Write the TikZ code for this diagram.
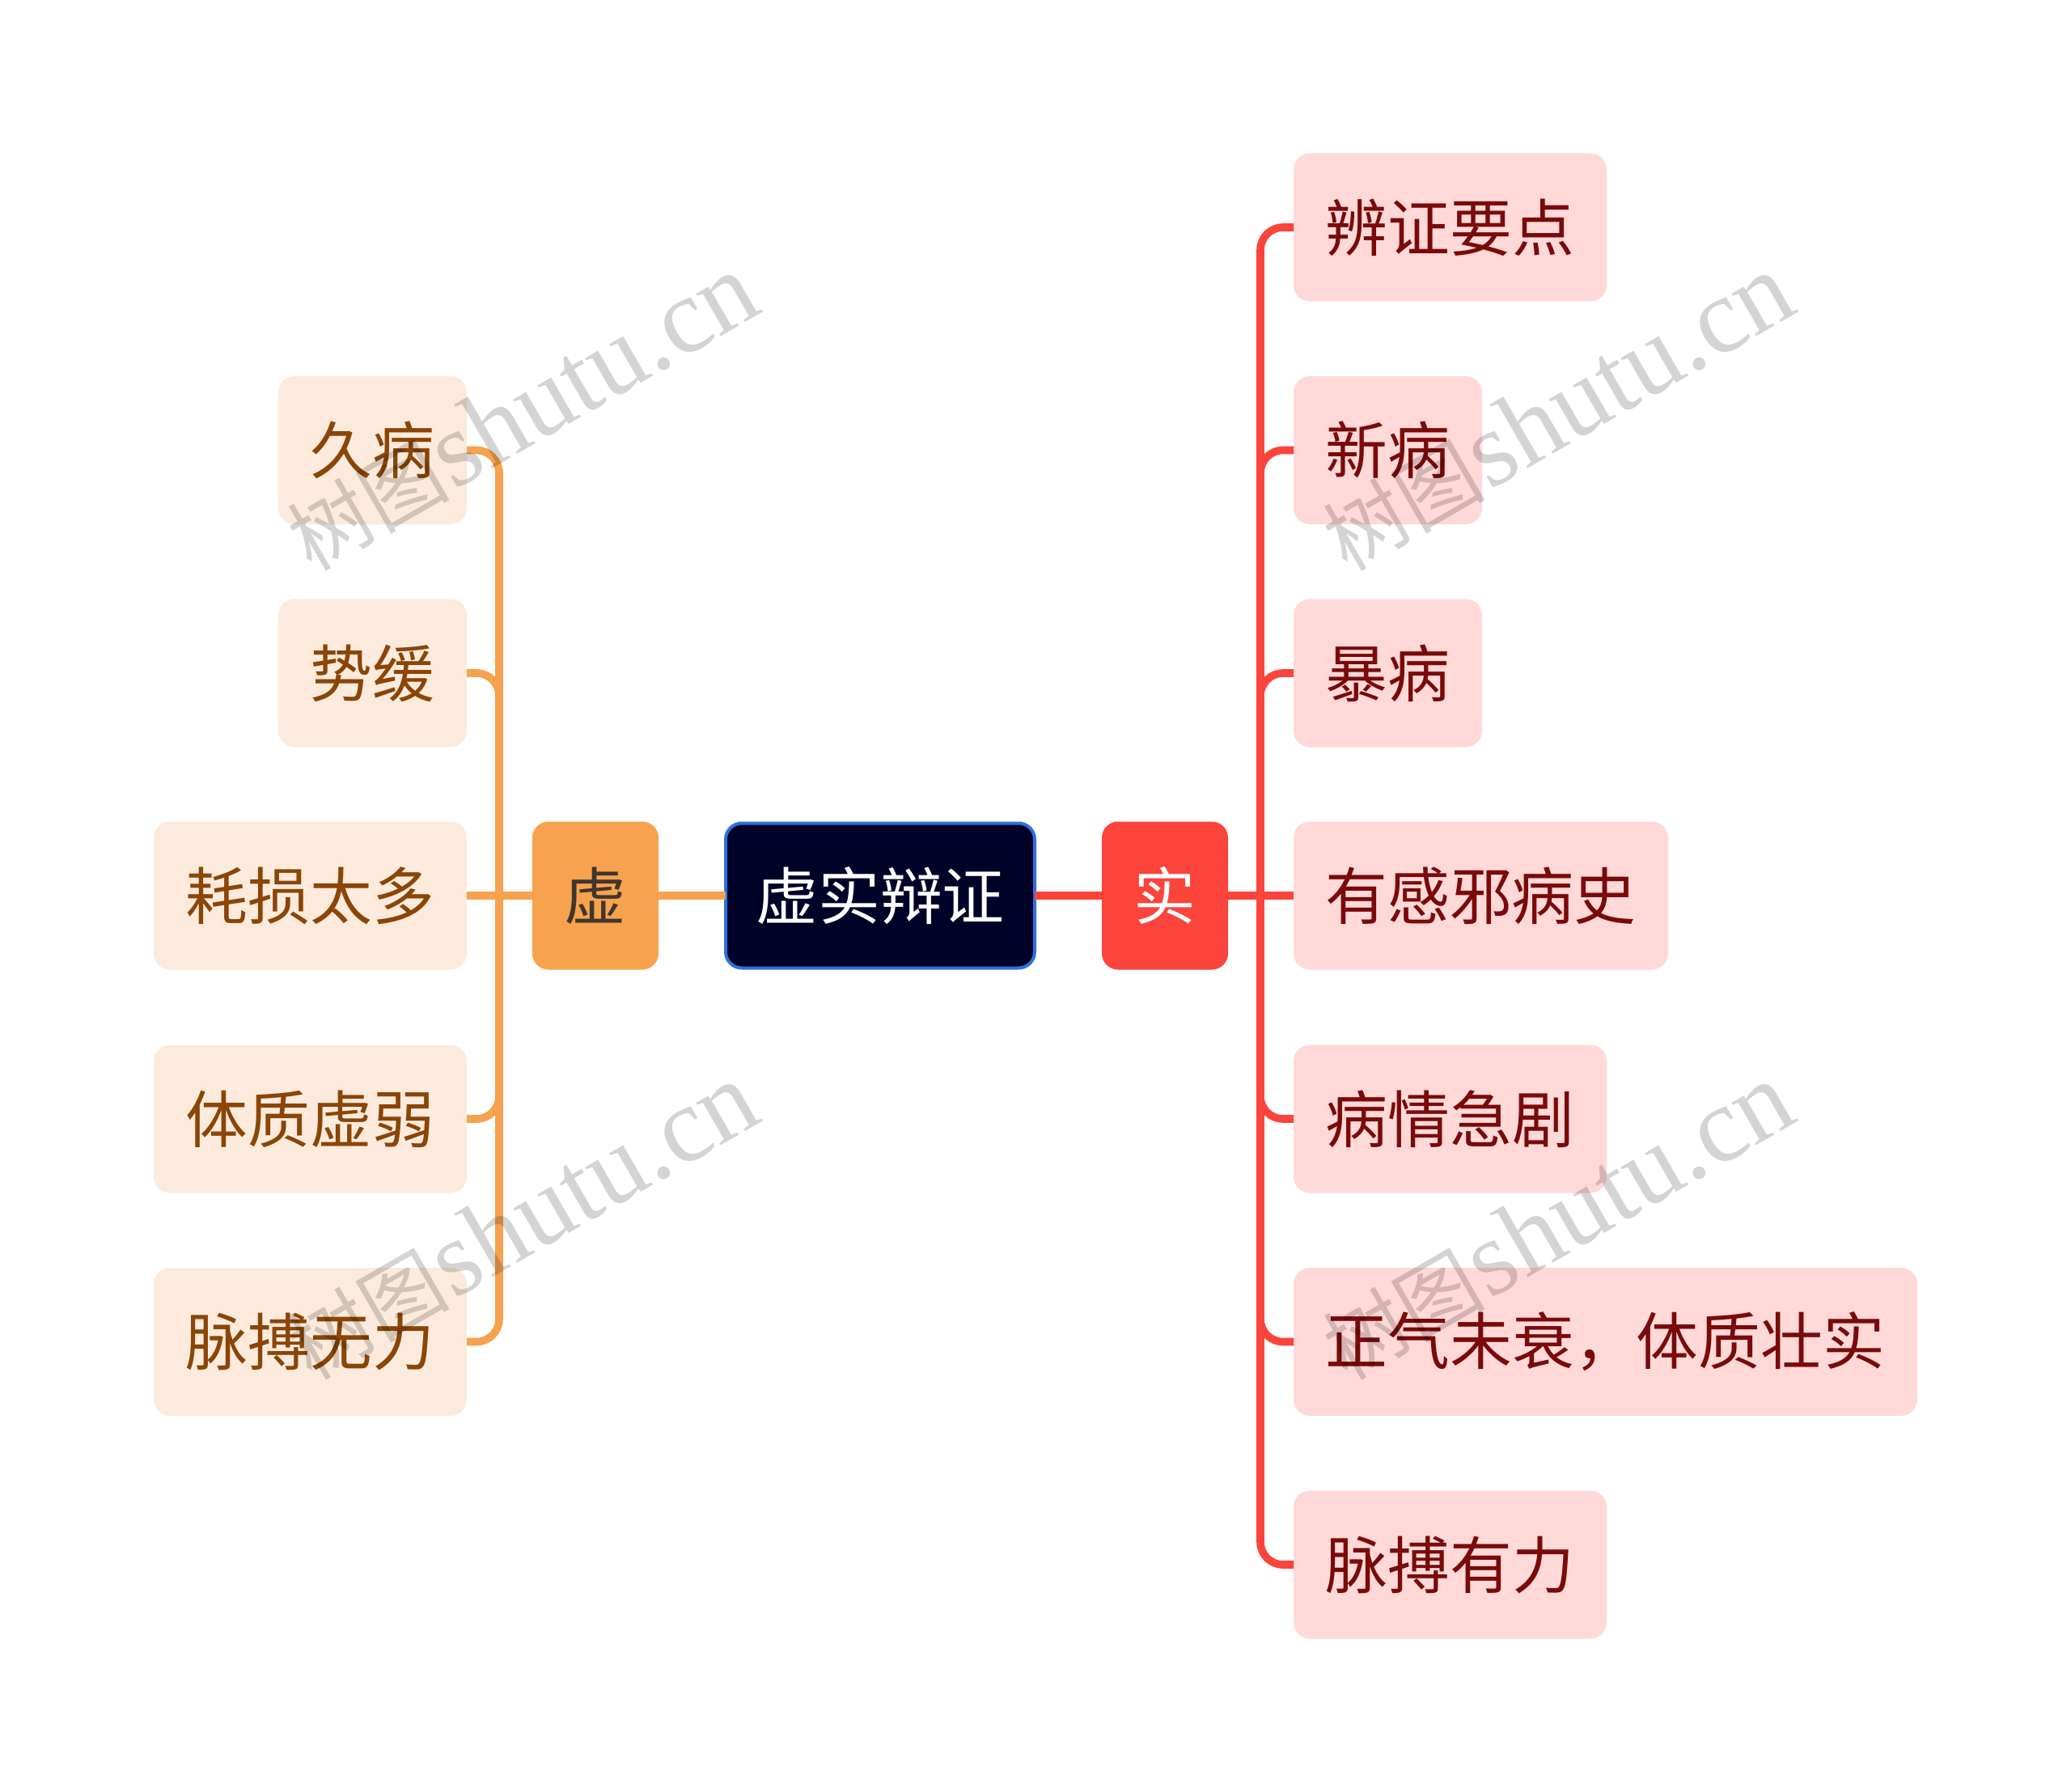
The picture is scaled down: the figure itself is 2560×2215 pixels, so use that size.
\documentclass[tikz,border=0pt]{standalone}
\usepackage{fontspec}
\newfontfamily\cjk{Noto Sans CJK SC}
\newfontfamily\wmlatin{Liberation Serif}
\definecolor{orangeline}{HTML}{F6A24E}
\definecolor{redline}{HTML}{FB443C}
\definecolor{lightorange}{HTML}{FCEBDC}
\definecolor{lightred}{HTML}{FFD9D8}
\definecolor{brownink}{HTML}{8A4507}
\definecolor{redink}{HTML}{7A0A0A}
\definecolor{darkink}{HTML}{40362C}
\definecolor{navybox}{HTML}{000228}
\definecolor{blueedge}{HTML}{2F6FDE}
\tikzset{
  x=1pt,y=-1pt,
  anybox/.style={rounded corners=20pt,inner sep=0pt,outer sep=0pt,minimum height=183pt,
    align=center,font=\cjk\fontsize{76.8}{92}\selectfont},
  leftleaf/.style={anybox,fill=lightorange,text=brownink,anchor=east},
  rightleaf/.style={anybox,fill=lightred,text=redink,anchor=west},
  oline/.style={draw=orangeline,line width=9.6pt,rounded corners=28pt},
  rline/.style={draw=redline,line width=9.6pt,rounded corners=28pt},
  wm/.style={rotate=30,text=black,opacity=0.17,inner sep=0pt}
}
\newcommand{\wmtext}{{\cjk\fontsize{100}{130}\selectfont 树图} {\wmlatin\fontsize{132}{130}\selectfont shutu.cn}}
\begin{document}
\begin{tikzpicture}
\useasboundingbox (0,0) rectangle (2560,2215);
\fill[white] (0,0) rectangle (2560,2215);
% central and branch nodes
\node[anybox,fill=navybox,draw=blueedge,line width=4pt,minimum width=382pt,minimum height=179pt,text=white] (root) at (1088,1107) {虚实辩证};
\node[anybox,fill=orangeline,text=darkink,minimum width=156pt] (xu) at (736,1107) {虚};
\node[anybox,fill=redline,text=white,minimum width=156pt] (shi) at (1440,1107) {实};
% left leaves
\node[leftleaf,minimum width=233pt] (l1) at (577,556.5) {久病};
\node[leftleaf,minimum width=233pt] (l2) at (577,832) {势缓};
\node[leftleaf,minimum width=387pt] (l3) at (577,1107) {耗损太多};
\node[leftleaf,minimum width=387pt] (l4) at (577,1383) {体质虚弱};
\node[leftleaf,minimum width=387pt] (l5) at (577,1658.5) {脉搏无力};
% right leaves
\node[rightleaf,minimum width=387pt] (r1) at (1599,281) {辨证要点};
\node[rightleaf,minimum width=233pt] (r2) at (1599,556.5) {新病};
\node[rightleaf,minimum width=233pt] (r3) at (1599,832) {暴病};
\node[rightleaf,minimum width=463pt] (r4) at (1599,1107) {有感邪病史};
\node[rightleaf,minimum width=387pt] (r5) at (1599,1383) {病情急剧};
\node[rightleaf,minimum width=771pt] (r6) at (1599,1658.5) {正气未衰，体质壮实};
\node[rightleaf,minimum width=387pt] (r7) at (1599,1934) {脉搏有力};
% junctions on the straight horizontal lines
\coordinate (lj) at (617,1107);
\coordinate (rj) at (1558,1107);
% connectors
\draw[oline] (root.west) -- (xu.east);
\draw[rline] (root.east) -- (shi.west);
\draw[oline] (xu.west) -- (l3.east);
\draw[rline] (shi.east) -- (r4.west);
\foreach \n in {l1,l2,l4,l5} \draw[oline] (lj) |- (\n.east);
\foreach \n in {r1,r2,r3,r5,r6,r7} \draw[rline] (rj) |- (\n.west);
% watermarks
\node[wm] (w1) at (645,510) {\wmtext};
\node[wm] (w2) at (1925,510) {\wmtext};
\node[wm] (w3) at (645,1510) {\wmtext};
\node[wm] (w4) at (1925,1510) {\wmtext};
\end{tikzpicture}
\end{document}
